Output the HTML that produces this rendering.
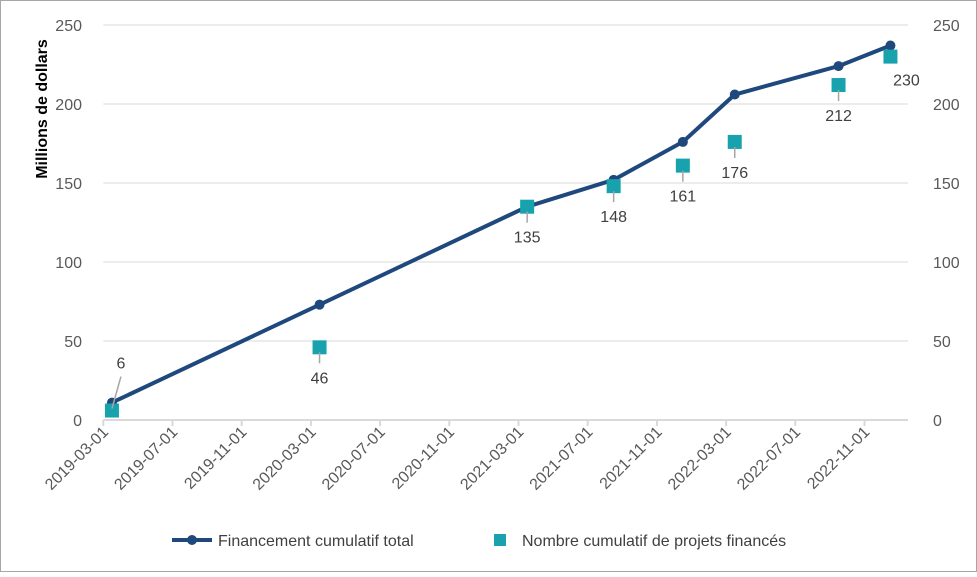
<!DOCTYPE html>
<html><head><meta charset="utf-8"><style>
body{margin:0;background:#fff;font-family:"Liberation Sans",sans-serif}
svg text{font-family:"Liberation Sans",sans-serif}
</style></head><body>
<svg id="c" width="977" height="572">
<rect x="0.5" y="0.5" width="976" height="571" fill="#fff" stroke="#a6a6a6"/>
<g id="grid"></g><g id="axes"></g><g id="marks"></g>
<text transform="translate(47,109) rotate(-90)" text-anchor="middle" font-size="16" font-weight="bold" fill="#000">Millions de dollars</text>
<g>
<g>
<line x1="172" y1="540" x2="212" y2="540" stroke="#1f497d" stroke-width="4"/>
<circle cx="192" cy="540" r="5" fill="#1f497d"/>
<text x="218" y="546" font-size="16" fill="#404040">Financement cumulatif total</text></g>
<g>
<rect x="494" y="534" width="12" height="12" fill="#17a2ad"/>
<text x="522" y="546" font-size="16" fill="#404040">Nombre cumulatif de projets financés</text></g>
</g>
</svg>
<script>
const months=[0.5,12.5,24.5,29.5,33.5,36.5,42.5,45.5];
const funding=[11,73,135,152,176,206,224,237];
const projects=[6,46,135,148,161,176,212,230];
const tickLabels=["2019-03-01","2019-07-01","2019-11-01","2020-03-01","2020-07-01","2020-11-01","2021-03-01","2021-07-01","2021-11-01","2022-03-01","2022-07-01","2022-11-01"];
const yTicks=[0,50,100,150,200,250];
const NS="http://www.w3.org/2000/svg";
const x0=103.3,pxm=17.3,y0=420,pyu=395/250,xR=908;
const X=m=>x0+m*pxm, Y=v=>y0-v*pyu;
function mk(t,a,p){const e=document.createElementNS(NS,t);for(const k in a)e.setAttribute(k,a[k]);document.getElementById(p).appendChild(e);return e;}
yTicks.forEach(v=>{
 if(v>0){const g=mk('line',{x1:x0,x2:xR,y1:Y(v),y2:Y(v),stroke:'#d9d9d9'},'grid');
 
 }
 const l=mk('text',{x:82,y:Y(v)+6,'text-anchor':'end','font-size':16,fill:'#595959'},'axes');l.textContent=v;
 
 
 const r=mk('text',{x:933,y:Y(v)+6,'text-anchor':'start','font-size':16,fill:'#595959'},'axes');r.textContent=v;
 
 
});
const ax=mk('line',{x1:x0,x2:xR,y1:y0,y2:y0,stroke:'#d9d9d9','stroke-width':2},'axes');


tickLabels.forEach((t,i)=>{
 const x=X(i*4);
 const tk=mk('line',{x1:x,x2:x,y1:y0,y2:y0+6,stroke:'#d9d9d9','stroke-width':2},'axes');
 
 
 const l=mk('text',{transform:`translate(${x+6},${y0+13}) rotate(-45)`,'text-anchor':'end','font-size':16,fill:'#595959'},'axes');
 l.textContent=t;
 
 
});
const pl=mk('polyline',{points:months.map((m,i)=>X(m)+','+Y(funding[i])).join(' '),fill:'none',stroke:'#1f497d','stroke-width':4,'stroke-linejoin':'round'},'marks');


months.forEach((m,i)=>{
 const c=mk('circle',{cx:X(m),cy:Y(funding[i]),r:5,fill:'#1f497d'},'marks');
 
 
});
months.forEach((m,i)=>{
 const x=X(m),y=Y(projects[i]);
 const s=mk('rect',{x:x-7,y:y-7,width:14,height:14,fill:'#17a2ad'},'marks');
 
 
 let lx=x,ly=y+36;
 if(i===0){lx=x+9;ly=y-42;}
 if(i===7){lx=x+16;ly=y+29;}
 if(i!==7){
 const ln=mk('line',{x1:x,y1:y+(i===0?-2:5),x2:lx,y2:ly+(i===0?8:-20),stroke:'#a6a6a6','stroke-width':1.5},'marks');
 
 
 }
 const t=mk('text',{x:lx,y:ly,'text-anchor':'middle','font-size':16,fill:'#404040'},'marks');
 t.textContent=projects[i];
 
 
});
</script>
</body></html>
